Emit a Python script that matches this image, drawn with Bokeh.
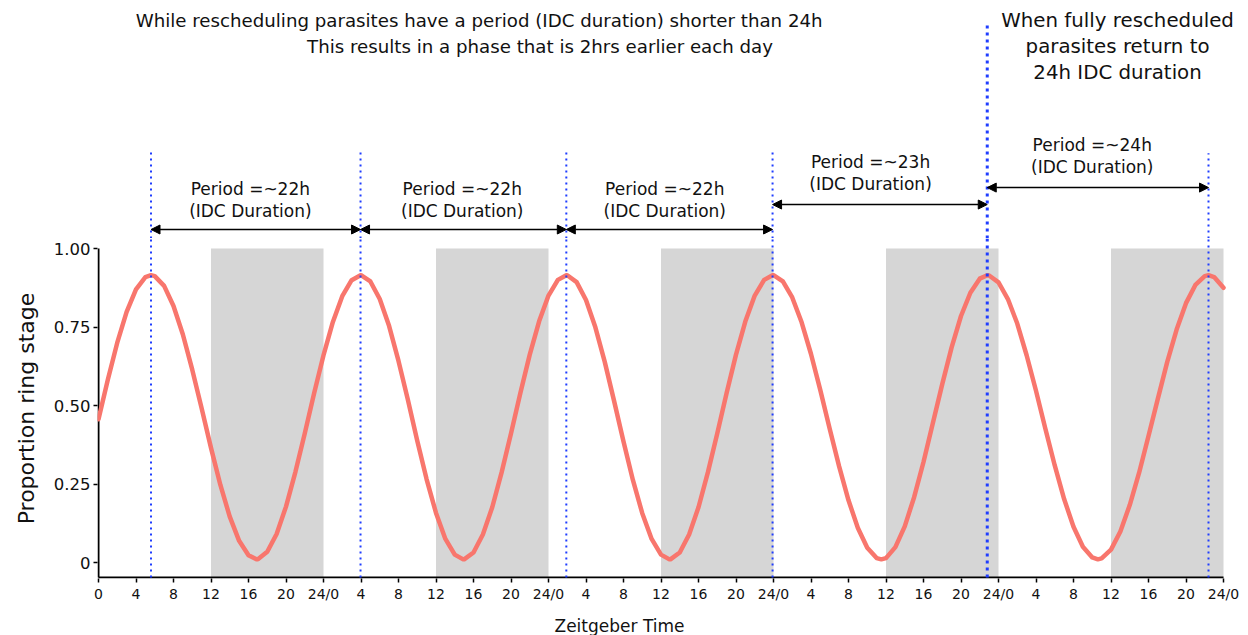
from bokeh.plotting import figure
from bokeh.layouts import column
from bokeh.models import Range1d, FixedTicker, Arrow, NormalHead
from bokeh.core.properties import value
from bokeh.embed import file_html
from bokeh.resources import INLINE

# ---------------- data ----------------
zt_hours = [0, 1, 2, 3, 4, 5, 5.6, 6, 7, 8, 9, 10, 11, 12, 13, 14, 15, 16, 16.85,
            17, 18, 19, 20, 21, 22, 23, 24, 25, 26, 27, 27.95,
            28, 29, 30, 31, 32, 33, 34, 35, 36, 37, 38, 38.9,
            39, 40, 41, 42, 43, 44, 45, 46, 47, 48, 49, 49.9,
            50, 51, 52, 53, 54, 55, 56, 57, 58, 59, 60, 60.9,
            61, 62, 63, 64, 65, 66, 67, 68, 69, 70, 71, 71.9,
            72, 73, 74, 75, 76, 77, 78, 79, 80, 81, 82, 83, 83.5,
            84, 85, 86, 87, 88, 89, 90, 91, 92, 93, 94, 94.8,
            95, 96, 97, 98, 99, 100, 101, 102, 103, 104, 105, 106, 106.6,
            107, 108, 109, 110, 111, 112, 113, 114, 115, 116, 117, 118, 118.4,
            119, 120]
ring_prop = [0.456, 0.583, 0.700, 0.798, 0.870, 0.909, 0.915, 0.912, 0.881, 0.817, 0.726, 0.614, 0.491, 0.365, 0.247, 0.146, 0.069, 0.023, 0.010,
             0.010, 0.034, 0.091, 0.178, 0.288, 0.411, 0.539, 0.660, 0.766, 0.848, 0.899, 0.915,
             0.915, 0.895, 0.839, 0.753, 0.642, 0.518, 0.388, 0.265, 0.158, 0.075, 0.025, 0.010,
             0.010, 0.032, 0.089, 0.176, 0.287, 0.411, 0.540, 0.662, 0.768, 0.850, 0.900, 0.915,
             0.915, 0.893, 0.836, 0.749, 0.639, 0.514, 0.385, 0.263, 0.157, 0.075, 0.025, 0.010,
             0.010, 0.032, 0.089, 0.176, 0.287, 0.411, 0.540, 0.662, 0.768, 0.850, 0.900, 0.915,
             0.915, 0.895, 0.844, 0.765, 0.664, 0.548, 0.425, 0.306, 0.198, 0.110, 0.047, 0.014, 0.010,
             0.014, 0.049, 0.115, 0.208, 0.320, 0.444, 0.568, 0.685, 0.785, 0.859, 0.904, 0.915,
             0.914, 0.892, 0.839, 0.761, 0.660, 0.547, 0.426, 0.309, 0.202, 0.114, 0.050, 0.016, 0.010,
             0.013, 0.041, 0.099, 0.183, 0.286, 0.403, 0.522, 0.639, 0.742, 0.826, 0.884, 0.912, 0.915,
             0.909, 0.875]

night_start = [12, 36, 60, 84, 108]
night_end = [24, 48, 72, 96, 120]

peak_times = [5.6, 27.95, 49.9, 71.9, 94.8, 118.4]

period_labels = ["Period =~22h", "Period =~22h", "Period =~22h", "Period =~23h", "Period =~24h"]
period_sub = ["(IDC Duration)"] * 5

tick_hours = list(range(0, 121, 4))
tick_labels = ["0", "4", "8", "12", "16", "20", "24/0",
               "4", "8", "12", "16", "20", "24/0",
               "4", "8", "12", "16", "20", "24/0",
               "4", "8", "12", "16", "20", "24/0",
               "4", "8", "12", "16", "20", "24/0"]
y_ticks = [0, 0.25, 0.5, 0.75, 1.0]
y_tick_labels = ["0", "0.25", "0.50", "0.75", "1.00"]

top_line_1 = "While rescheduling parasites have a period (IDC duration) shorter than 24h"
top_line_2 = "This results in a phase that is 2hrs earlier each day"
top_lines_right = ["When fully rescheduled", "parasites return to", "24h IDC duration"]
x_title = "Zeitgeber Time"
y_title = "Proportion ring stage"

# ---------------- layout constants ----------------
FONT = "DejaVu Sans"
W, H = 1248, 635
LEFT = 97
PX_X = 1125 / 120.0        # px per hour
PX_Y = 314.0               # px per unit proportion
ZERO_PY = 562              # pixel row of y = 0
SPLIT_PY = 238             # boundary: annotation panel / plot panel
FRAME_BOTTOM_PY = 578
AXIS_PANEL = 30            # room for x tick labels
TITLE_TOP_PY = FRAME_BOTTOM_PY + AXIS_PANEL
X0 = -1 / PX_X             # 1px margin at the left
X1 = X0 + (W - LEFT) / PX_X
Y_SPLIT = (ZERO_PY - SPLIT_PY) / PX_Y
Y_TOP = ZERO_PY / PX_Y
Y0 = -(FRAME_BOTTOM_PY - ZERO_PY) / PX_Y
AXIS_Y = -15 / PX_Y

line_tops = [1.312, 1.312, 1.312, 1.315, 1.710, 1.303]
line_widths = [2, 2, 2, 2, 3, 2]
line_dashes = ["2 4", "2 4", "2 4", "2 4", "3 4", "2 4"]
period_x = [16.2, 38.8, 60.4, 82.35, 106.0]
period_y1 = [1.188, 1.188, 1.188, 1.274, 1.331]
period_y2 = [1.121, 1.121, 1.121, 1.204, 1.261]
arrow_y = [1.0605, 1.0605, 1.0605, 1.140, 1.194]
right_x = [108.7, 108.7, 108.7]
right_y = [1.726, 1.643, 1.561]
BLUE = "#1f3dff"
TXT = "#111111"

# ---------------- annotation panel (top) ----------------
top = figure(width=W, height=SPLIT_PY, x_range=Range1d(X0, X1), y_range=Range1d(Y_SPLIT, Y_TOP),
             x_axis_type=None, y_axis_type=None, toolbar_location=None, output_backend="svg",
             min_border_left=LEFT, min_border_right=0, min_border_top=0, min_border_bottom=0,
             outline_line_color=None)
top.grid.visible = False

for i, xp in enumerate(peak_times):
    top.segment(x0=[xp], y0=[Y_SPLIT], x1=[xp], y1=[line_tops[i]], line_color=BLUE,
                line_width=line_widths[i], line_dash=line_dashes[i])

for i in range(5):
    top.add_layout(Arrow(x_start=peak_times[i], x_end=peak_times[i + 1], y_start=arrow_y[i], y_end=arrow_y[i],
                         line_color="black", line_width=1.5,
                         start=NormalHead(size=9, fill_color="black", line_color="black", line_width=1),
                         end=NormalHead(size=9, fill_color="black", line_color="black", line_width=1)))

top.text(x=period_x, y=period_y1, text=period_labels, text_font=value(FONT), text_font_size=value("17px"),
         text_align="center", text_baseline="middle", text_color=TXT)
top.text(x=period_x, y=period_y2, text=period_sub, text_font=value(FONT), text_font_size=value("17px"),
         text_align="center", text_baseline="middle", text_color=TXT)
top.text(x=[40.6, 47.1], y=[1.726, 1.643], text=[top_line_1, top_line_2], text_font=value(FONT),
         text_font_size=value("18.2px"), text_align="center", text_baseline="middle", text_color=TXT)
top.text(x=right_x, y=right_y, text=top_lines_right, text_font=value(FONT), text_font_size=value("19.8px"),
         text_align="center", text_baseline="middle", text_color=TXT)

# ---------------- plot panel (middle) ----------------
p = figure(width=W, height=TITLE_TOP_PY - SPLIT_PY, x_range=Range1d(X0, X1), y_range=Range1d(Y0, Y_SPLIT),
           toolbar_location=None, output_backend="svg",
           min_border_left=LEFT, min_border_right=0, min_border_top=0,
           min_border_bottom=AXIS_PANEL, outline_line_color=None)
p.grid.visible = False

p.quad(left=night_start, right=night_end, bottom=Y0, top=1.0, fill_color="#d6d6d6", line_color=None)

# axis lines stop at the data limits, as in the reference
p.segment(x0=[0], y0=[AXIS_Y], x1=[0], y1=[1.0], line_color="black", line_width=2)
p.segment(x0=[0], y0=[AXIS_Y], x1=[120], y1=[AXIS_Y], line_color="black", line_width=2)

p.line(zt_hours, ring_prop, line_color="#F8766D", line_width=4.5, line_join="round", line_cap="round")

for i, xp in enumerate(peak_times):
    p.segment(x0=[xp], y0=[AXIS_Y], x1=[xp], y1=[Y_SPLIT], line_color=BLUE,
              line_width=line_widths[i], line_dash=line_dashes[i])

p.xaxis.ticker = FixedTicker(ticks=tick_hours)
p.xaxis.major_label_overrides = {t: l for t, l in zip(tick_hours, tick_labels)}
p.yaxis.ticker = FixedTicker(ticks=y_ticks)
p.yaxis.major_label_overrides = {t: l for t, l in zip(y_ticks, y_tick_labels)}
for ax in (p.xaxis, p.yaxis):
    ax.axis_line_color = None
    ax.major_tick_line_color = "black"
    ax.major_tick_line_width = 1.5
    ax.major_tick_in = 0
    ax.major_tick_out = 4
    ax.minor_tick_line_color = None
    ax.major_label_text_font = FONT
    ax.major_label_text_color = TXT
p.xaxis.major_label_text_font_size = "14px"
p.xaxis.major_label_standoff = 3
p.yaxis.major_label_text_font_size = "16.5px"
p.yaxis.major_label_standoff = 3
p.yaxis.axis_label = y_title
p.yaxis.axis_label_text_font = FONT
p.yaxis.axis_label_text_font_size = "22px"
p.yaxis.axis_label_text_font_style = "normal"
p.yaxis.axis_label_text_color = TXT
p.yaxis.axis_label_standoff = 12

# ---------------- x title strip (bottom) ----------------
BOTTOM_H = H - TITLE_TOP_PY
bot = figure(width=W, height=BOTTOM_H, x_range=Range1d(X0, X1), y_range=Range1d(0, BOTTOM_H),
             x_axis_type=None, y_axis_type=None, toolbar_location=None, output_backend="svg",
             min_border_left=LEFT, min_border_right=0, min_border_top=0, min_border_bottom=0,
             outline_line_color=None)
bot.grid.visible = False
bot.text(x=[(619 - LEFT - 1) / PX_X], y=[H - 625], text=[x_title], text_font=value(FONT),
         text_font_size=value("17px"), text_align="center", text_baseline="middle", text_color=TXT)

layout = column(top, p, bot, spacing=0)
open("out.html", "w").write(file_html(layout, INLINE))
